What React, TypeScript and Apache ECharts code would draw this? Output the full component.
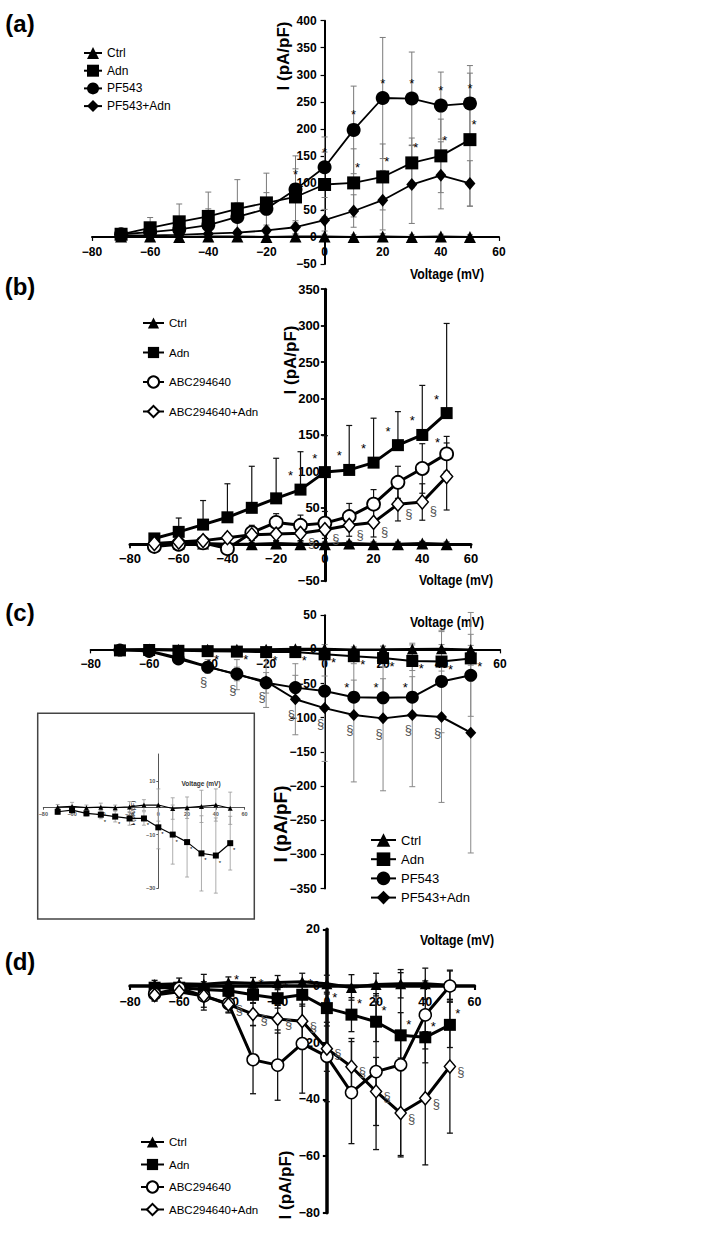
import React, { useEffect, useRef } from "react";
import * as echarts from "echarts";

// ---------- data ----------
const V = [-70, -60, -50, -40, -30, -20, -10, 0, 10, 20, 30, 40, 50];
const X_TICKS = [-80, -60, -40, -20, 0, 20, 40, 60];

// (a)
const aCtrl = [1, 1, 0, 1, 1, 0, 1, 1, 0, 1, 0, 1, 0];
const aCtrlErr = [2, 2, 2, 2, 3, 3, 3, 4, 4, 5, 4, 4, 4];
const aAdn = [5, 17, 28, 38, 52, 63, 74, 97, 100, 111, 137, 150, 180];
const aAdnErr = [4, 19, 33, 45, 54, 55, 52, 60, 63, 61, 46, 68, 123];
const aPF = [5, 9, 14, 22, 37, 52, 88, 129, 198, 257, 256, 243, 247];
const aPFErr = [5, 8, 12, 30, 26, 30, 62, 56, 81, 112, 86, 62, 70];
const aPFA = [3, 3, 4, 6, 8, 12, 18, 31, 48, 68, 97, 114, 99];
const aPFAErr = [2, 3, 3, 4, 5, 6, 12, 20, 30, 55, 72, 62, 42];
const aStarPF = [-10, 0, 10, 20, 30, 40, 50];
const aStarAdn = [0, 10, 20, 30, 40, 50];

// (b)
const bCtrl = [0, 1, 1, 0, 0, 1, 0, 0, 1, 0, 0, 1, 0];
const bCtrlErr = [2, 2, 2, 2, 2, 3, 3, 3, 3, 3, 3, 3, 3];
const bAdn = [8, 17, 27, 37, 50, 63, 75, 99, 102, 112, 136, 150, 180];
const bAdnErr = [3, 19, 33, 46, 57, 55, 52, 50, 61, 61, 46, 68, 123];
const bABC = [-3, 0, 2, -6, 16, 30, 26, 29, 38, 55, 85, 104, 124];
const bABCErr = [6, 6, 6, 8, 10, 12, 14, 16, 18, 20, 22, 34, 24];
const bABCA = [1, 3, 5, 9, 13, 14, 15, 20, 26, 30, 55, 58, 93];
const bABCAErr = [3, 4, 5, 6, 8, 9, 10, 12, 15, 20, 23, 25, 46];
const bStarAdn = [-10, 0, 10, 20, 30, 40, 50];
const bStarABC = [50];
const bSecABCA = [-10, 0, 10, 20, 30, 40];

// (c) (inset shows cCtrl and cAdn on a finer scale)
const cCtrl = [0.2, 0.5, 0, 0.2, 0, 0.3, 1, 1, -0.3, 0, 0.5, 1, -0.2];
const cCtrlErr = [1, 1.5, 1, 1.5, 1, 2, 2, 6, 4, 4, 6, 6, 6];
const cAdn = [-1.5, -0.9, -2.1, -2.6, -3.3, -4, -4, -7.3, -10, -12.8, -17, -17.8, -13.2];
const cAdnErr = [1, 1, 1, 1.5, 2, 2.5, 2.5, 8, 11, 13, 14, 14, 10];
const cPF = [-1, -3, -14, -26, -36, -49, -56, -61, -70, -71, -70, -47, -38];
const cPFErr = [1, 3, 5, 8, 10, 15, 18, 22, 25, 28, 30, 75, 60];
const cPFA = [-1, -2, -12, -25, -37, -47, -73, -86, -96, -101, -96, -99, -122];
const cPFAErr = [1, 2, 6, 10, 22, 38, 52, 78, 98, 106, 105, 125, 176];
const cStarAdn = [-40, -30, -20, -10, 0, 10, 20, 30, 40, 50];
const cStarPF = [10, 20, 30];
const cSecPFA = [-40, -30, -20, -10, 0, 10, 20, 30, 40];
const insetStarAdn = [-40, -30, -20, -10, 0, 10, 20, 30, 40, 50];

// (d)
const dCtrl = [0.5, 0.8, 0.6, 1.2, 1, 1.2, 1.5, 0.8, -0.5, 0.5, 0.8, 0.8, 0.3];
const dCtrlErr = [1.5, 2, 3.5, 2, 2, 2.5, 3, 3, 4.5, 4, 5, 5.5, 5];
const dAdn = [-0.6, -0.6, -1.2, -1.7, -3.1, -4.3, -3.1, -7.8, -10.1, -12.6, -17.4, -18.1, -13.7];
const dAdnErr = [1, 1, 1.5, 2, 3, 3.5, 4, 5, 6, 7, 8, 9, 8];
const dABC = [-2.8, -0.8, -3.5, -6.2, -26, -27.9, -20.3, -24.8, -37.6, -30.2, -27.8, -10.2, 0];
const dABCErr = [2.5, 2, 4, 3, 12, 12.4, 17.5, 16, 18, 27.5, 32.5, 12, 5.6];
const dABCA = [-3.2, -2, -3.5, -6.5, -9.9, -11.6, -12.4, -22.1, -28.5, -37.2, -44.8, -39.6, -28.4];
const dABCAErr = [2, 2, 5, 3, 4, 5, 6, 8, 10, 12, 15, 23.5, 23.5];
const dStarAdn = [-40, -30, -20, -10, 0, 10, 20, 30, 40, 50];
const dSecABCA = [-40, -30, -20, -10, 0, 10, 20, 30, 40, 50];

// ---------- layout / style ----------
const FB = "'Liberation Sans', Arial, sans-serif";
const strip = (s: string) => s.replace(/\u200b/g, "");
const minus = (v: number) => String(v).replace("-", "\u2212");
const X_MIN = -80;
const X_MAX = 60;

const GRIDS = [
  { left: 92, top: 20.7, width: 407, height: 243.3 },
  { left: 130, top: 289.2, width: 341, height: 291.5 },
  { left: 90.7, top: 615.2, width: 409.3, height: 273.3 },
  { left: 130, top: 929.3, width: 344.5, height: 283.5 },
  { left: 43.3, top: 754, width: 201.3, height: 134.3 },
];
const YR = [
  [-50, 400, 50],
  [-50, 350, 50],
  [-350, 50, 50],
  [-80, 20, 20],
  [-30, 20, 20],
];
const AX = [
  { lw: 2, fs: 12, color: "#000", xm: 9, ym: 8, tick: 4 },
  { lw: 3, fs: 13, color: "#000", xm: 8, ym: 5, tick: 4 },
  { lw: 2, fs: 12, color: "#000", xm: 9, ym: 8, tick: 4 },
  { lw: 3.5, fs: 12.5, color: "#000", xm: 9, ym: 7, tick: 4 },
  { lw: 1, fs: 5.5, color: "#555", xm: 3, ym: 3, tick: 2 },
];

type P = { gi: number; tag: string; lw: number; err: string; errW: number; cap: number };
const PA: P = { gi: 0, tag: "", lw: 1.8, err: "#7a7a7a", errW: 1, cap: 3 };
const PB: P = { gi: 1, tag: "\u200b", lw: 3, err: "#111", errW: 1.2, cap: 3 };
const PC: P = { gi: 2, tag: "\u200b\u200b", lw: 2, err: "#888", errW: 1, cap: 3 };
const PD: P = { gi: 3, tag: "\u200b\u200b\u200b", lw: 3, err: "#111", errW: 1.3, cap: 3 };
const PI: P = { gi: 4, tag: "\u200b\u200b\u200b\u200b", lw: 1.2, err: "#999", errW: 0.8, cap: 2 };

function line(p: P, name: string, ys: number[], symbol: string, size: any, open: boolean, bw = 1.5) {
  return {
    type: "line",
    name: name + p.tag,
    xAxisIndex: p.gi,
    yAxisIndex: p.gi,
    data: V.map((x, i) => [x, ys[i]]),
    symbol,
    symbolSize: size,
    showSymbol: true,
    lineStyle: { color: "#000", width: p.lw },
    itemStyle: open
      ? { color: "#fff", borderColor: "#000", borderWidth: bw }
      : { color: "#000", borderColor: "#000", borderWidth: 0 },
    emphasis: { disabled: true },
    silent: true,
    z: 3,
  };
}

function errs(p: P, ys: number[], e: number[], dir: "both" | "up" = "both") {
  return {
    type: "custom",
    xAxisIndex: p.gi,
    yAxisIndex: p.gi,
    silent: true,
    z: 2,
    data: V.map((x, i) => [x, dir === "up" ? ys[i] : ys[i] - e[i], ys[i] + e[i]]),
    encode: { x: 0, y: [1, 2] },
    renderItem: (_params: any, api: any) => {
      const x = api.value(0);
      const lo = api.coord([x, api.value(1)]);
      const hi = api.coord([x, api.value(2)]);
      const st = { stroke: p.err, lineWidth: p.errW };
      const ch: any[] = [
        { type: "line", shape: { x1: lo[0], y1: lo[1], x2: hi[0], y2: hi[1] }, style: st },
        { type: "line", shape: { x1: hi[0] - p.cap, y1: hi[1], x2: hi[0] + p.cap, y2: hi[1] }, style: st },
      ];
      if (dir === "both")
        ch.push({ type: "line", shape: { x1: lo[0] - p.cap, y1: lo[1], x2: lo[0] + p.cap, y2: lo[1] }, style: st });
      return { type: "group", children: ch };
    },
  };
}

function ann(p: P, xs: number[], ys: number[], ch: string, dx: number, dy: number, size: number, color = "#000") {
  return {
    type: "custom",
    xAxisIndex: p.gi,
    yAxisIndex: p.gi,
    silent: true,
    z: 4,
    data: xs.map((x) => [x, ys[V.indexOf(x)]]),
    encode: { x: 0, y: 1 },
    renderItem: (_params: any, api: any) => {
      const c = api.coord([api.value(0), api.value(1)]);
      return {
        type: "text",
        x: c[0] + dx,
        y: c[1] + dy,
        style: {
          text: ch,
          fill: color,
          fontSize: size,
          fontFamily: FB,
          align: "center",
          verticalAlign: "middle",
          textAlign: "center",
          textVerticalAlign: "middle",
        },
      };
    },
  };
}

function legend(p: P, names: string[], left: number, top: number, iw: number, ih: number, gap: number, fs: number) {
  return {
    show: true,
    orient: "vertical",
    left,
    top,
    itemWidth: iw,
    itemHeight: ih,
    itemGap: gap,
    padding: 0,
    selectedMode: false,
    data: names.map((n) => n + p.tag),
    formatter: strip,
    textStyle: { fontFamily: FB, fontSize: fs, lineHeight: ih, color: "#000" },
  };
}

function txt(text: string, x: number, y: number, size: number, rot = 0, sx = 1, weight = "bold", color = "#000") {
  return {
    type: "text",
    x,
    y,
    rotation: rot,
    scaleX: sx,
    style: {
      text,
      fill: color,
      fontSize: size,
      fontFamily: FB,
      fontWeight: weight,
      align: "center",
      verticalAlign: "middle",
      textAlign: "center",
      textVerticalAlign: "middle",
    },
  };
}

function buildOption() {
  const xAxis = GRIDS.map((g, i) => ({
    type: "value",
    gridIndex: i,
    position: "bottom",
    // put the axis through y = 0 of this panel
    offset: -((0 - YR[i][0]) / (YR[i][1] - YR[i][0])) * g.height,
    min: X_MIN,
    max: X_MAX,
    interval: 20,
    axisLine: { show: true, onZero: false, lineStyle: { color: AX[i].color, width: AX[i].lw } },
    axisTick: { show: true, length: AX[i].tick, lineStyle: { color: AX[i].color, width: Math.max(1, AX[i].lw * 0.6) } },
    axisLabel: {
      margin: AX[i].xm,
      fontSize: AX[i].fs,
      fontWeight: "bold",
      fontFamily: FB,
      color: AX[i].color,
      formatter: (v: number) => (X_TICKS.indexOf(v) >= 0 ? minus(v) : ""),
    },
    splitLine: { show: false },
  }));
  const yAxis = GRIDS.map((g, i) => ({
    type: "value",
    gridIndex: i,
    position: "left",
    // put the axis through x = 0 of this panel
    offset: -((0 - X_MIN) / (X_MAX - X_MIN)) * g.width,
    min: YR[i][0],
    max: YR[i][1],
    interval: YR[i][2],
    axisLine: { show: true, onZero: false, lineStyle: { color: AX[i].color, width: AX[i].lw } },
    axisTick: { show: true, length: AX[i].tick, lineStyle: { color: AX[i].color, width: Math.max(1, AX[i].lw * 0.6) } },
    axisLabel: {
      margin: AX[i].ym,
      fontSize: AX[i].fs,
      fontWeight: "bold",
      fontFamily: FB,
      color: AX[i].color,
      showMaxLabel: i !== 4,
      formatter: (v: number) => minus(v),
    },
    splitLine: { show: false },
  }));

  const series: any[] = [
    // (a)
    errs(PA, aPF, aPFErr),
    errs(PA, aAdn, aAdnErr),
    errs(PA, aPFA, aPFAErr),
    errs(PA, aCtrl, aCtrlErr),
    line(PA, "Ctrl", aCtrl, "triangle", 12, false),
    line(PA, "Adn", aAdn, "rect", 13, false),
    line(PA, "PF543", aPF, "circle", 14, false),
    line(PA, "PF543+Adn", aPFA, "diamond", [11, 13], false),
    ann(PA, aStarPF, aPF, "*", 0, -15, 13),
    ann(PA, aStarAdn, aAdn, "*", 4, -15, 13),
    // (b)
    errs(PB, bAdn, bAdnErr, "up"),
    errs(PB, bABC, bABCErr),
    errs(PB, bABCA, bABCAErr),
    errs(PB, bCtrl, bCtrlErr),
    line(PB, "Ctrl", bCtrl, "triangle", 12, false),
    line(PB, "Adn", bAdn, "rect", 12, false),
    line(PB, "ABC294640", bABC, "circle", 13, true, 1.8),
    line(PB, "ABC294640+Adn", bABCA, "diamond", [12, 14], true, 1.5),
    ann(PB, bStarAdn, bAdn, "*", -10, -14, 13),
    ann(PB, bStarABC, bABC, "*", -9, -11, 13),
    ann(PB, bSecABCA, bABCA, "\u00a7", 11, 9, 13, "#555"),
    // (c)
    errs(PC, cPFA, cPFAErr),
    errs(PC, cPF, cPFErr),
    errs(PC, cAdn, cAdnErr),
    errs(PC, cCtrl, cCtrlErr),
    line(PC, "Ctrl", cCtrl, "triangle", 11, false),
    line(PC, "Adn", cAdn, "rect", 12, false),
    line(PC, "PF543", cPF, "circle", 13, false),
    line(PC, "PF543+Adn", cPFA, "diamond", [11, 12], false),
    ann(PC, cStarAdn, cAdn, "*", 9, 8, 13),
    ann(PC, cStarPF, cPF, "*", -7, -10, 13),
    ann(PC, cSecPFA, cPFA, "\u00a7", -4, 15, 13, "#555"),
    // inset
    errs(PI, cAdn, cAdnErr),
    errs(PI, cCtrl, cCtrlErr),
    line(PI, "Ctrl", cCtrl, "triangle", 5, false),
    line(PI, "Adn", cAdn, "rect", 6, false),
    ann(PI, insetStarAdn, cAdn, "*", 4, 7, 6),
    // (d)
    errs(PD, dABC, dABCErr),
    errs(PD, dABCA, dABCAErr),
    errs(PD, dAdn, dAdnErr),
    errs(PD, dCtrl, dCtrlErr),
    line(PD, "Ctrl", dCtrl, "triangle", 11, false),
    line(PD, "Adn", dAdn, "rect", 12, false),
    line(PD, "ABC294640", dABC, "circle", 12, true, 1.5),
    line(PD, "ABC294640+Adn", dABCA, "diamond", [11, 13], true, 1.5),
    ann(PD, dStarAdn, dAdn, "*", 8, -11, 13),
    ann(PD, dSecABCA, dABCA, "\u00a7", 11, 5, 13, "#555"),
  ];

  const graphic: any[] = [
    txt("(a)", 20, 23, 24),
    txt("(b)", 20, 286, 24),
    txt("(c)", 20, 612, 24),
    txt("(d)", 20, 961, 24),
    txt("I (pA/pF)", 283, 56, 17, Math.PI / 2),
    txt("Voltage (mV)", 447, 274, 15, 0, 0.82),
    txt("I (pA/pF)", 290, 360, 17, Math.PI / 2),
    txt("Voltage (mV)", 456, 580, 15, 0, 0.82),
    txt("Voltage (mV)", 447, 622, 15, 0, 0.82),
    txt("I (pA/pF)", 280, 824, 19, Math.PI / 2),
    txt("Voltage (mV)", 457, 940, 15, 0, 0.82),
    txt("I (pA/pF)", 285, 1185, 17, Math.PI / 2),
    {
      type: "rect",
      shape: { x: 37.7, y: 713.3, width: 216.6, height: 205.7 },
      style: { fill: "none", stroke: "#444", lineWidth: 1.5 },
      z: 10,
    },
    txt("Voltage (mV)", 201, 783, 6.5, 0, 1, "bold", "#333"),
    txt("I (pA/pF)", 133, 813, 6, Math.PI / 2, 1, "bold", "#333"),
  ];

  return {
    animation: false,
    backgroundColor: "#fff",
    grid: GRIDS.map((g) => ({ ...g, containLabel: false })),
    xAxis,
    yAxis,
    legend: [
      legend(PA, ["Ctrl", "Adn", "PF543", "PF543+Adn"], 83, 45.5, 18, 15, 2.7, 12),
      legend(PB, ["Ctrl", "Adn", "ABC294640", "ABC294640+Adn"], 142, 316, 21, 14, 15.5, 11.5),
      legend(PC, ["Ctrl", "Adn", "PF543", "PF543+Adn"], 370, 831.5, 25, 17, 2.2, 13),
      legend(PD, ["Ctrl", "Adn", "ABC294640", "ABC294640+Adn"], 140, 1135, 23, 14, 8.5, 11.5),
    ],
    series,
    graphic,
  };
}

export default function App() {
  const ref = useRef<HTMLDivElement>(null);
  useEffect(() => {
    if (!ref.current) return;
    const chart = echarts.init(ref.current, undefined, { renderer: "svg" });
    chart.setOption(buildOption() as any);
    return () => chart.dispose();
  }, []);
  return (
    <div
      ref={ref}
      style={{ position: "absolute", left: 0, top: 0, width: 715, height: 1234, background: "#fff" }}
    />
  );
}
